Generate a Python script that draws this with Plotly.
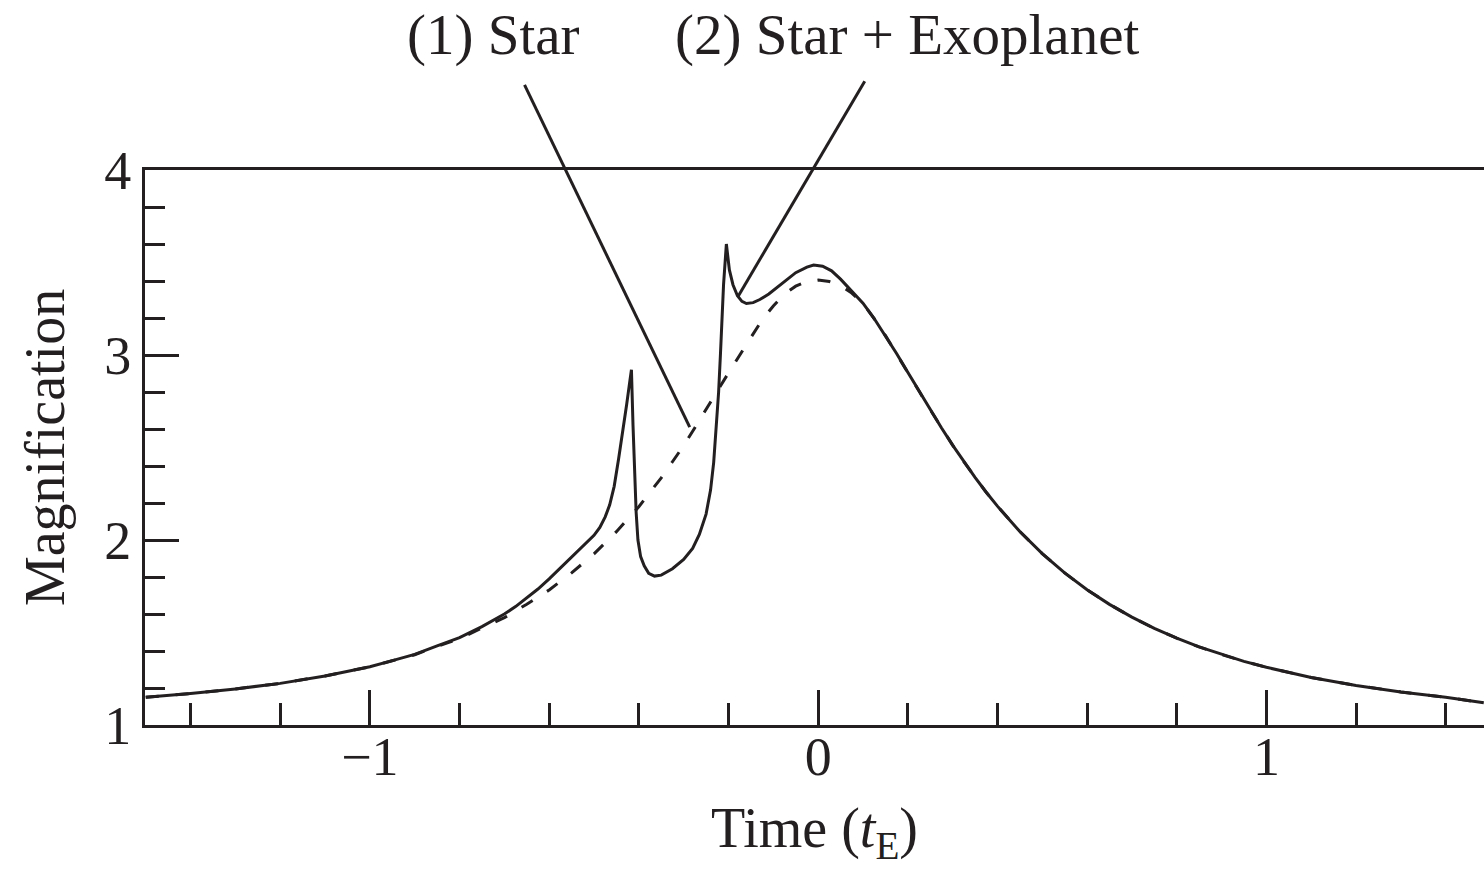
import plotly.graph_objects as go

# ---- data ----
star_t = [-1.5, -1.4, -1.3, -1.2, -1.1, -1.0, -0.95, -0.9, -0.85, -0.8, -0.75, -0.7, -0.65, -0.6,
          -0.55, -0.5, -0.45, -0.4, -0.375, -0.35, -0.325, -0.3, -0.275, -0.25, -0.225, -0.2,
          -0.175, -0.15, -0.125, -0.1, -0.075, -0.05, -0.025, 0.0, 0.025, 0.05, 0.075, 0.1,
          0.125, 0.15, 0.175, 0.2, 0.225, 0.25, 0.275, 0.3, 0.325, 0.35, 0.375, 0.4, 0.45,
          0.5, 0.55, 0.6, 0.65, 0.7, 0.75, 0.8, 0.85, 0.9, 0.95, 1.0, 1.1, 1.2,
          1.3, 1.4, 1.485]
star_mag = [1.15, 1.17, 1.195, 1.225, 1.265, 1.315, 1.347, 1.38, 1.425, 1.467, 1.524, 1.58, 1.653, 1.73,
            1.822, 1.925, 2.045, 2.18, 2.258, 2.336, 2.423, 2.51, 2.607, 2.703, 2.805, 2.903,
            3.0, 3.095, 3.19, 3.265, 3.33, 3.372, 3.397, 3.405, 3.397, 3.376, 3.335, 3.28,
            3.197, 3.106, 3.008, 2.907, 2.805, 2.705, 2.607, 2.513, 2.423, 2.338, 2.258, 2.183, 2.046,
            1.926, 1.822, 1.731, 1.652, 1.583, 1.522, 1.469, 1.422, 1.381, 1.344, 1.312, 1.257, 1.214,
            1.179, 1.150, 1.12]

planet_t = [-1.5, -1.4, -1.3, -1.2, -1.1, -1.0, -0.95, -0.9, -0.85, -0.8, -0.75, -0.7, -0.675, -0.65,
            -0.625, -0.6, -0.575, -0.55, -0.525, -0.5,
            -0.487, -0.475, -0.465, -0.455, -0.445, -0.435, -0.427, -0.42, -0.4165,
            -0.413, -0.41, -0.406, -0.402, -0.396, -0.388, -0.378, -0.365, -0.35, -0.325,
            -0.3, -0.28, -0.265, -0.25, -0.24, -0.233, -0.227, -0.222, -0.218, -0.2145,
            -0.211, -0.2047, -0.198, -0.19, -0.18, -0.17, -0.16, -0.145, -0.13, -0.11,
            -0.085, -0.065, -0.05, -0.025, -0.01, 0.01, 0.03, 0.05, 0.075, 0.1,
            0.125, 0.15, 0.175, 0.2, 0.225, 0.25, 0.275, 0.3, 0.325, 0.35, 0.375, 0.4, 0.45,
            0.5, 0.55, 0.6, 0.65, 0.7, 0.75, 0.8, 0.85, 0.9, 0.95, 1.0, 1.1, 1.2,
            1.3, 1.4, 1.485]
planet_mag = [1.15, 1.17, 1.195, 1.225, 1.265, 1.315, 1.348, 1.382, 1.428, 1.472, 1.532, 1.60, 1.64, 1.685,
              1.735, 1.79, 1.848, 1.905, 1.962, 2.025,
              2.068, 2.125, 2.19, 2.29, 2.44, 2.59, 2.735, 2.86, 2.92,
              2.62, 2.40, 2.15, 2.00, 1.91, 1.86, 1.82, 1.805, 1.81, 1.845,
              1.895, 1.955, 2.03, 2.14, 2.27, 2.42, 2.60, 2.80, 3.00, 3.20,
              3.38, 3.60, 3.46, 3.38, 3.32, 3.29, 3.278, 3.283, 3.30, 3.33,
              3.38, 3.42, 3.445, 3.475, 3.486, 3.48, 3.455, 3.41, 3.345, 3.28,
              3.197, 3.106, 3.008, 2.907, 2.805, 2.705, 2.607, 2.513, 2.423, 2.338, 2.258, 2.183, 2.046,
              1.926, 1.822, 1.731, 1.652, 1.583, 1.522, 1.469, 1.422, 1.381, 1.344, 1.312, 1.257, 1.214,
              1.179, 1.150, 1.12]

x_ticks = [-1, 0, 1]
x_ticktext = ["\u22121", "0", "1"]
y_ticks = [1, 2, 3, 4]

labels = ["(1) Star", "(2) Star + Exoplanet"]
label_x = [-0.725, 0.198]          # label centres (data x)
pointer_tail = [(-0.655, 4.46), (0.104, 4.48)]
pointer_tip = [(-0.2865, 2.61), (-0.179, 3.315)]

X_RANGE = [-1.5017, 1.4855]
Y_RANGE = [1, 4]

FONT = "Liberation Serif, Times New Roman, DejaVu Serif, serif"
INK = "#231f20"

fig = go.Figure()
fig.add_trace(go.Scatter(x=star_t, y=star_mag, mode="lines",
                         line=dict(color=INK, width=3, dash="13px,17px"),
                         showlegend=False, hoverinfo="skip"))
fig.add_trace(go.Scatter(x=planet_t, y=planet_mag, mode="lines",
                         line=dict(color=INK, width=3),
                         showlegend=False, hoverinfo="skip"))


def to_paper(x, y):
    return ((x - X_RANGE[0]) / (X_RANGE[1] - X_RANGE[0]),
            (y - Y_RANGE[0]) / (Y_RANGE[1] - Y_RANGE[0]))


for (tx, ty), (hx, hy) in zip(pointer_tail, pointer_tip):
    x0, y0 = to_paper(tx, ty)
    x1, y1 = to_paper(hx, hy)
    fig.add_shape(type="line", xref="paper", yref="paper", x0=x0, y0=y0, x1=x1, y1=y1,
                  line=dict(color=INK, width=3))

for txt, lx in zip(labels, label_x):
    px, _ = to_paper(lx, 0)
    fig.add_annotation(text=txt, x=px, y=1.0, xref="paper", yref="paper",
                       yshift=135, showarrow=False, xanchor="center", yanchor="middle",
                       font=dict(family=FONT, size=57, color=INK))

fig.update_xaxes(range=X_RANGE, tickvals=x_ticks, ticktext=x_ticktext,
                 ticks="inside", ticklen=35, tickwidth=3, tickcolor=INK,
                 minor=dict(dtick=0.2, tick0=0, ticks="inside", ticklen=22, tickwidth=3, tickcolor=INK),
                 showline=True, linewidth=3, linecolor=INK, mirror=True,
                 showgrid=False, zeroline=False, ticklabelstandoff=-18,
                 tickfont=dict(family=FONT, size=54, color=INK),
                 title=dict(text="Time (<i>t</i><sub>E</sub>)", standoff=23,
                            font=dict(family=FONT, size=56, color=INK)))
fig.update_yaxes(range=Y_RANGE, tickvals=y_ticks,
                 ticks="inside", ticklen=34, tickwidth=3, tickcolor=INK,
                 minor=dict(dtick=0.2, tick0=0, ticks="inside", ticklen=20, tickwidth=3, tickcolor=INK),
                 showline=True, linewidth=3, linecolor=INK, mirror=False,
                 showgrid=False, zeroline=False,
                 tickfont=dict(family=FONT, size=54, color=INK),
                 title=dict(text="Magnification", standoff=22,
                            font=dict(family=FONT, size=56, color=INK)))

fig.update_layout(width=1484, height=870,
                  margin=dict(l=145, r=0, t=170, b=145),
                  paper_bgcolor="white", plot_bgcolor="white")

fig.write_html("out.html")
